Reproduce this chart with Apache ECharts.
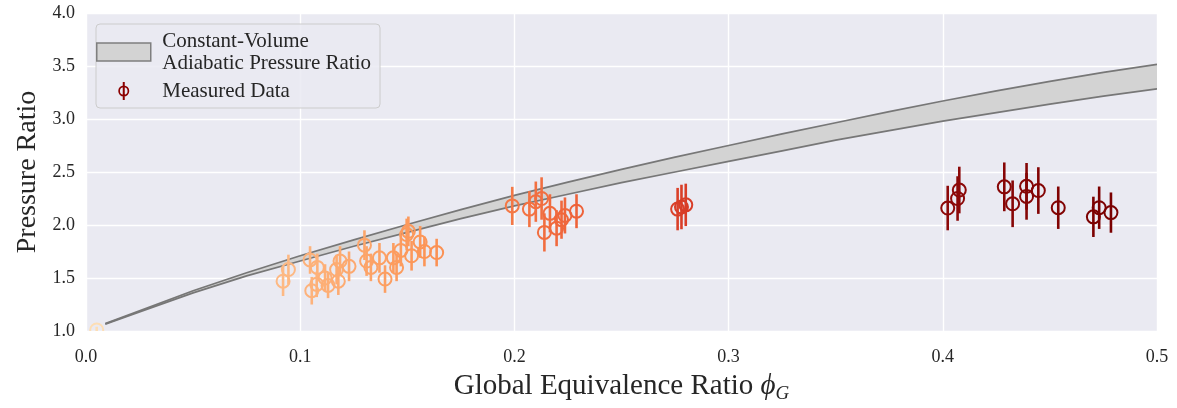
<!DOCTYPE html>
<html>
<head>
<meta charset="utf-8">
<script src="https://cdn.jsdelivr.net/npm/echarts@6/dist/echarts.min.js"></script>
<style>
html,body{margin:0;padding:0;background:#fff;}
#chart{width:1177px;height:408px;}
</style>
</head>
<body>
<div id="chart"></div>
<script>
// Adiabatic band (global equivalence ratio, lower and upper pressure ratio)
var bandPhi   = [0.009, 0.025, 0.05, 0.075, 0.1, 0.125, 0.15, 0.175, 0.2, 0.225, 0.25, 0.275, 0.3,
  0.325, 0.35, 0.375, 0.4, 0.425, 0.45, 0.475, 0.5];
var bandLower = [1.065, 1.18, 1.36, 1.52, 1.66, 1.80, 1.93, 2.06, 2.18, 2.29, 2.40, 2.50, 2.60,
  2.70, 2.80, 2.89, 2.98, 3.06, 3.14, 3.215, 3.284];
var bandUpper = [1.07, 1.19, 1.38, 1.55, 1.71, 1.86, 2.005, 2.145, 2.28, 2.405, 2.525, 2.64, 2.75,
  2.86, 2.965, 3.07, 3.17, 3.265, 3.355, 3.44, 3.516];

// Measured data
var phiG = [0.005, 0.092, 0.0945, 0.1046, 0.1054, 0.108, 0.1077, 0.1116, 0.113, 0.117, 0.1186, 0.1178, 0.1228,
  0.130, 0.131, 0.133, 0.137, 0.1396, 0.1435, 0.145, 0.147, 0.1497, 0.1505, 0.152, 0.156, 0.158, 0.1637,
  0.199, 0.207, 0.210, 0.2127, 0.214, 0.2166, 0.2197, 0.222, 0.2236, 0.229,
  0.2762, 0.278, 0.280,
  0.4023, 0.4069, 0.4077, 0.4287, 0.4326, 0.4391, 0.4391, 0.4446, 0.4539, 0.4703, 0.473, 0.4785];
var pressureRatio = [1.01, 1.47, 1.58, 1.67, 1.38, 1.60, 1.44, 1.50, 1.43, 1.58, 1.66, 1.47, 1.61,
  1.81, 1.66, 1.60, 1.69, 1.49, 1.69, 1.60, 1.76, 1.91, 1.94, 1.71, 1.84, 1.75, 1.74,
  2.18, 2.15, 2.22, 2.25, 1.93, 2.11, 1.97, 2.05, 2.09, 2.13,
  2.15, 2.17, 2.19,
  2.16, 2.25, 2.33, 2.36, 2.20, 2.365, 2.27, 2.325, 2.163, 2.077, 2.163, 2.117];
var ratioError = [0.03, 0.14, 0.14, 0.13, 0.13, 0.13, 0.12, 0.13, 0.12, 0.14, 0.14, 0.13, 0.14,
  0.14, 0.14, 0.13, 0.14, 0.13, 0.14, 0.13, 0.15, 0.15, 0.14, 0.14, 0.15, 0.14, 0.13,
  0.18, 0.17, 0.19, 0.20, 0.18, 0.18, 0.17, 0.18, 0.17, 0.16,
  0.20, 0.21, 0.20,
  0.21, 0.21, 0.22, 0.23, 0.22, 0.22, 0.22, 0.22, 0.20, 0.19, 0.20, 0.19];

var xTicks = [0, 0.1, 0.2, 0.3, 0.4, 0.5];
var yTicks = [1.0, 1.5, 2.0, 2.5, 3.0, 3.5, 4.0];

var bandName = 'Constant-Volume Adiabatic Pressure Ratio';
var dataName = 'Measured Data';

var bandData = bandPhi.map(function (p, i) { return [p, bandLower[i], bandUpper[i]]; });
var measured = phiG.map(function (p, i) { return [p, pressureRatio[i], ratioError[i]]; });

var serif = 'Liberation Serif';
var chart = echarts.init(document.getElementById('chart'));
chart.setOption({
  animation: false,
  backgroundColor: '#ffffff',
  grid: { left: 86, right: 20, top: 13, bottom: 72, show: true, backgroundColor: '#eaeaf2', borderWidth: 0 },
  xAxis: {
    type: 'value', min: xTicks[0], max: xTicks[xTicks.length - 1], interval: 0.1,
    axisLine: { show: false }, axisTick: { show: false },
    splitLine: { show: true, lineStyle: { color: '#ffffff', width: 1.4 } },
    axisLabel: { fontFamily: serif, fontSize: 18, color: '#262626', margin: 17,
      formatter: function (v) { return v.toFixed(1); } },
    name: '{n|Global Equivalence Ratio }{i|ϕ}{s|G}',
    nameLocation: 'middle', nameGap: 39,
    nameTextStyle: {
      rich: {
        n: { fontFamily: serif, fontSize: 29, color: '#262626' },
        i: { fontFamily: serif, fontSize: 29, fontStyle: 'italic', color: '#262626' },
        s: { fontFamily: serif, fontSize: 19, fontStyle: 'italic', color: '#262626', padding: [14, 0, 0, 0] }
      }
    }
  },
  yAxis: {
    type: 'value', min: yTicks[0], max: yTicks[yTicks.length - 1], interval: 0.5,
    axisLine: { show: false }, axisTick: { show: false },
    splitLine: { show: true, lineStyle: { color: '#ffffff', width: 1.4 } },
    axisLabel: { fontFamily: serif, fontSize: 18, color: '#262626', margin: 11,
      formatter: function (v) { return v.toFixed(1); } },
    name: 'Pressure Ratio', nameLocation: 'middle', nameGap: 43,
    nameTextStyle: { fontFamily: serif, fontSize: 28, color: '#262626' }
  },
  legend: {
    left: 96, top: 24, orient: 'vertical',
    backgroundColor: 'rgba(234,234,242,0.85)', borderColor: '#cccccc', borderWidth: 1, borderRadius: 4,
    padding: [6, 9, 6, 0], itemGap: 6, itemWidth: 67, itemHeight: 18,
    textStyle: { fontFamily: serif, fontSize: 21, color: '#262626', lineHeight: 22 },
    formatter: function (name) { return name === bandName ? 'Constant-Volume\nAdiabatic Pressure Ratio' : name; },
    data: [
      { name: bandName, icon: 'path://M0,0 L45,0 L45,15 L0,15 Z',
        itemStyle: { color: '#d3d3d3', borderColor: '#7f7f7f', borderWidth: 1.5 } },
      { name: dataName,
        icon: 'path://M0.5,9 A5.5,5.5 0 1,1 11.5,9 A5.5,5.5 0 1,1 0.5,9 Z M2.2,9 A3.8,3.8 0 1,0 9.8,9 A3.8,3.8 0 1,0 2.2,9 Z M5,0 L7,0 L7,18 L5,18 Z',
        itemStyle: { color: '#8b0000', borderWidth: 0 } }
    ]
  },
  visualMap: {
    type: 'continuous', show: false, dimension: 0, seriesIndex: 1, min: 0, max: 0.48,
    inRange: { color: ['#fde0b8', '#fdc08c', '#fc9455', '#ec5a35', '#c4201a', '#8e0a0a', '#7a0000'] }
  },
  series: [
    {
      type: 'custom', name: bandName, data: bandData, z: 2, clip: true, silent: true,
      encode: { x: 0, y: [1, 2] },
      itemStyle: { color: '#d3d3d3' },
      renderItem: function (params, api) {
        if (params.dataIndex !== 0) { return null; }
        var up = [], lo = [];
        for (var i = 0; i < bandData.length; i++) {
          up.push(api.coord([bandData[i][0], bandData[i][2]]));
          lo.push(api.coord([bandData[i][0], bandData[i][1]]));
        }
        var poly = up.concat(lo.slice().reverse());
        return {
          type: 'group',
          children: [
            { type: 'polygon', shape: { points: poly },
              style: { fill: '#d3d3d3', stroke: null } },
            { type: 'polyline', shape: { points: up },
              style: { fill: null, stroke: '#777777', lineWidth: 1.7, lineJoin: 'round' } },
            { type: 'polyline', shape: { points: lo },
              style: { fill: null, stroke: '#777777', lineWidth: 1.7, lineJoin: 'round' } }
          ]
        };
      }
    },
    {
      type: 'custom', name: dataName, data: measured, z: 5, clip: true,
      encode: { x: 0, y: 1 },
      renderItem: function (params, api) {
        var x = api.value(0), y = api.value(1), e = api.value(2);
        var c = api.coord([x, y]);
        var top = api.coord([x, y + e]);
        var bot = api.coord([x, y - e]);
        var color = api.visual('color');
        return {
          type: 'group',
          children: [
            { type: 'line', shape: { x1: c[0], y1: top[1], x2: c[0], y2: bot[1] },
              style: { stroke: color, lineWidth: 2.6 } },
            { type: 'circle', shape: { cx: c[0], cy: c[1], r: 6.5 },
              style: { fill: null, stroke: color, lineWidth: 2 } }
          ]
        };
      }
    }
  ]
});
</script>
</body>
</html>
